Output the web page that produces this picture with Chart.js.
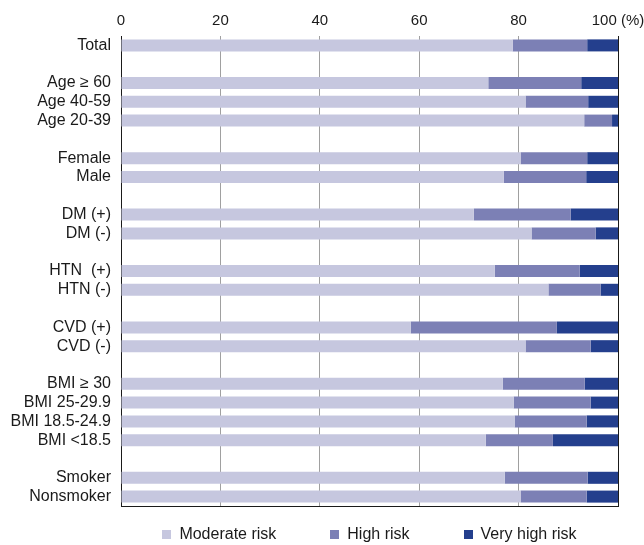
<!DOCTYPE html>
<html>
<head>
<meta charset="utf-8">
<script src="https://cdn.jsdelivr.net/npm/chart.js@4"></script>
<style>
  html, body { margin: 0; padding: 0; background: #fff; }
  #wrap { position: relative; width: 644px; height: 545px; }
  #legend {
    position: absolute; left: 121px; width: 497px; top: 525px;
    display: flex; justify-content: center; gap: 54px;
    font: 16px "Liberation Sans", sans-serif; color: #1a1a1a;
  }
  .item { display: flex; align-items: center; }
  .box { width: 9px; height: 9px; margin-right: 8px; }
</style>
</head>
<body>
<div id="wrap">
  <canvas id="chart" width="644" height="545"></canvas>
  <div id="legend"></div>
</div>
<script>
// Rows, with empty entries for the gaps between groups
const categories = [
  "Total", "",
  "Age \u2265 60", "Age 40-59", "Age 20-39", "",
  "Female", "Male", "",
  "DM (+)", "DM (-)", "",
  "HTN  (+)", "HTN (-)", "",
  "CVD (+)", "CVD (-)", "",
  "BMI \u2265 30", "BMI 25-29.9", "BMI 18.5-24.9", "BMI <18.5", "",
  "Smoker", "Nonsmoker"
];

// Percentages per risk level
const moderate = [78.8, null, 73.9, 81.4, 93.2, null, 80.4, 77.0, null, 71.0, 82.6, null,
  75.2, 86.0, null, 58.3, 81.4, null, 76.8, 79.0, 79.2, 73.4, null, 77.2, 80.4];
const high = [15.0, null, 18.7, 12.6, 5.6, null, 13.4, 16.6, null, 19.5, 12.9, null,
  17.1, 10.5, null, 29.4, 13.1, null, 16.5, 15.5, 14.5, 13.5, null, 16.7, 13.3];
const veryHigh = [6.2, null, 7.4, 6.0, 1.2, null, 6.2, 6.4, null, 9.5, 4.5, null,
  7.7, 3.5, null, 12.3, 5.5, null, 6.7, 5.5, 6.3, 13.1, null, 6.1, 6.3];

const seriesNames = ["Moderate risk", "High risk", "Very high risk"];
const seriesColors = ["#c6c7df", "#7c80b5", "#243f8d"];

const labelFont = { family: '"Liberation Sans", sans-serif', size: 16 };
const xTickFont = { family: '"Liberation Sans", sans-serif', size: 15 };
const inkColor = "#1a1a1a";

const ctx = document.getElementById("chart").getContext("2d");
const chart = new Chart(ctx, {
  type: "bar",
  data: {
    labels: categories,
    datasets: [moderate, high, veryHigh].map((values, i) => ({
      label: seriesNames[i],
      data: values,
      backgroundColor: seriesColors[i],
      borderWidth: 0,
      barPercentage: 0.64,
      categoryPercentage: 1,
    })),
  },
  options: {
    indexAxis: "y",
    responsive: false,
    animation: false,
    layout: { padding: { left: 0, right: 26, top: 0, bottom: 39 } },
    plugins: {
      legend: { display: false },
      tooltip: { enabled: false },
    },
    scales: {
      x: {
        position: "top",
        stacked: true,
        min: 0,
        max: 100,
        ticks: {
          stepSize: 20,
          padding: 6,
          font: xTickFont,
          color: inkColor,
          callback: (v) => (v === 100 ? "100 (%)" : v),
        },
        grid: {
          drawTicks: false,
          lineWidth: 1,
          color: (c) =>
            c.tick && (c.tick.value === 0 || c.tick.value === 100) ? inkColor : "#a0a0a0",
        },
        border: { display: false },
        afterFit: (s) => {
          s.height = 36;
          s.paddingLeft = 0;
          s.paddingRight = 0;
        },
      },
      // bottom frame line only
      x2: {
        position: "bottom",
        min: 0,
        max: 100,
        ticks: { display: false },
        grid: { display: false },
        border: { display: true, color: inkColor, width: 1 },
        afterFit: (s) => { s.height = 0; },
      },
      y: {
        stacked: true,
        ticks: { autoSkip: false, padding: 10, font: labelFont, color: inkColor },
        grid: { display: false, drawTicks: false },
        border: { color: inkColor, width: 1 },
        afterFit: (s) => {
          s.width = 121;
          s.paddingTop = 0;
          s.paddingBottom = 0;
        },
      },
    },
  },
});

// Legend in HTML so the wide spacing matches
const legend = document.getElementById("legend");
chart.data.datasets.forEach((ds) => {
  const item = document.createElement("div");
  item.className = "item";
  const box = document.createElement("span");
  box.className = "box";
  box.style.background = ds.backgroundColor;
  const text = document.createElement("span");
  text.textContent = ds.label;
  item.appendChild(box);
  item.appendChild(text);
  legend.appendChild(item);
});
</script>
</body>
</html>
